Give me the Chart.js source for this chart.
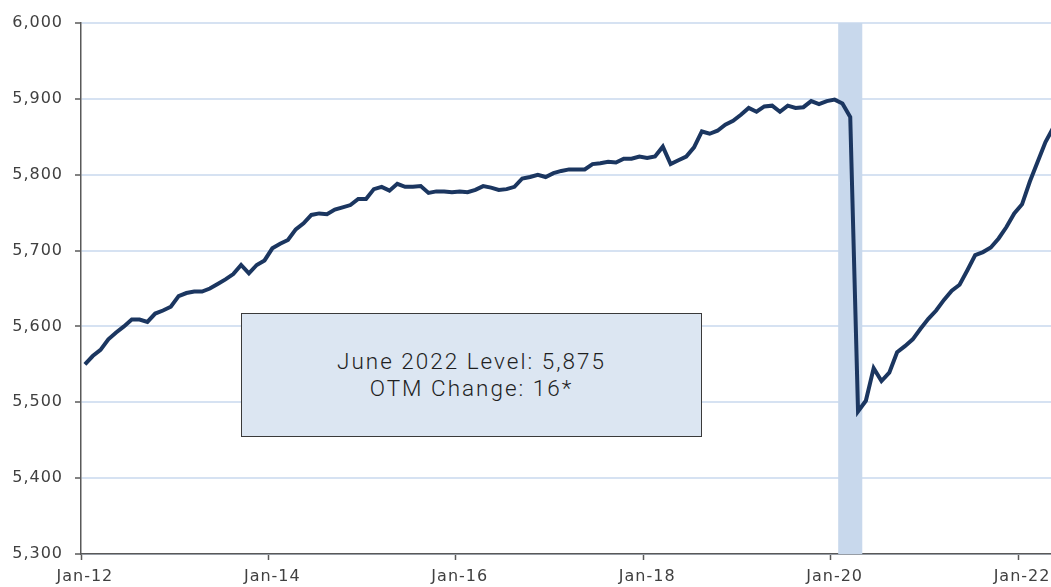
<!DOCTYPE html>
<html>
<head>
<meta charset="utf-8">
<script src="https://cdn.jsdelivr.net/npm/chart.js@4/dist/chart.umd.min.js"></script>
<style>
  html, body { margin: 0; padding: 0; background: #fff; overflow: hidden; }
  #wrap { position: relative; width: 1065px; height: 587px; }
  #note {
    position: absolute; left: 241px; top: 313px; width: 461px; height: 124px;
    box-sizing: border-box; background: #dce6f2; border: 1px solid #3a3a3a;
    display: flex; align-items: center; justify-content: center; text-align: center;
    font-family: Roboto, sans-serif; font-weight: 300; font-size: 22.5px;
    letter-spacing: 2px; line-height: 27px; color: #1f1f1f;
  }
</style>
</head>
<body>
<div id="wrap">
  <canvas id="chart-employment"></canvas>
  <div id="note">June 2022 Level: 5,875<br>OTM Change: 16*</div>
</div>
<script>
// monthly series, Jan-12 .. Jun-22
const startYear = 2012;
const monthNames = ["Jan", "Feb", "Mar", "Apr", "May", "Jun", "Jul", "Aug", "Sep", "Oct", "Nov", "Dec"];

const values2012 = [5550, 5561, 5569, 5583, 5592, 5600, 5609, 5609, 5606, 5617, 5621, 5626];
const values2013 = [5640, 5644, 5646, 5646, 5650, 5656, 5662, 5669, 5681, 5670, 5681, 5687];
const values2014 = [5703, 5709, 5714, 5728, 5736, 5747, 5749, 5748, 5754, 5757, 5760, 5768];
const values2015 = [5768, 5781, 5784, 5779, 5788, 5784, 5784, 5785, 5776, 5778, 5778, 5777];
const values2016 = [5778, 5777, 5780, 5785, 5783, 5780, 5781, 5784, 5795, 5797, 5800, 5797];
const values2017 = [5802, 5805, 5807, 5807, 5807, 5814, 5815, 5817, 5816, 5821, 5821, 5824];
const values2018 = [5822, 5824, 5837, 5814, 5819, 5824, 5836, 5857, 5854, 5858, 5866, 5871];
const values2019 = [5879, 5888, 5883, 5890, 5891, 5883, 5891, 5888, 5889, 5897, 5893, 5897];
const values2020 = [5899, 5894, 5876, 5488, 5502, 5545, 5528, 5539, 5566, 5574, 5583, 5597];
const values2021 = [5610, 5621, 5635, 5647, 5655, 5674, 5694, 5698, 5704, 5716, 5731, 5749];
const values2022 = [5761, 5791, 5817, 5843, 5862, 5875];

const recessionMonths = ["Feb-20", "Mar-20", "Apr-20"];
const yTicks = [5300, 5400, 5500, 5600, 5700, 5800, 5900, 6000];
const xTickLabels = ["Jan-12", "Jan-14", "Jan-16", "Jan-18", "Jan-20", "Jan-22"];

const levels = [].concat(values2012, values2013, values2014, values2015, values2016,
  values2017, values2018, values2019, values2020, values2021, values2022);

const months = [];
for (let i = 0; i < levels.length; i++) {
  const y = startYear + Math.floor(i / 12);
  months.push(monthNames[i % 12] + "-" + String(y).slice(2));
}
const band = months.map((m) => (recessionMonths.includes(m) ? yTicks[yTicks.length - 1] : null));

const axisGrey = "#595959";
const labelGrey = "#404040";

const spacing = {
  id: "spacing",
  beforeLayout(chart) { chart.ctx.letterSpacing = "1px"; },
  beforeDraw(chart) { chart.ctx.letterSpacing = "1px"; },
};

const ctx = document.getElementById("chart-employment").getContext("2d");
new Chart(ctx, {
  type: "line",
  data: {
    labels: months,
    datasets: [
      {
        label: "Employment",
        data: levels,
        borderColor: "#1b3660",
        borderWidth: 4,
        pointRadius: 0,
        tension: 0,
        fill: false,
        order: 1,
      },
      {
        type: "bar",
        label: "Recession",
        data: band,
        backgroundColor: "#c8d8ec",
        borderWidth: 0,
        barPercentage: 1,
        categoryPercentage: 1,
        order: 2,
      },
    ],
  },
  options: {
    responsive: true,
    maintainAspectRatio: false,
    animation: false,
    layout: { padding: { top: 23, right: 0, bottom: 0, left: 0 } },
    plugins: { legend: { display: false }, tooltip: { enabled: false } },
    scales: {
      x: {
        offset: true,
        grid: {
          offset: true,
          drawOnChartArea: false,
          tickLength: 6,
          tickWidth: 1.5,
          tickColor: (c) => (xTickLabels.includes(months[c.index]) ? axisGrey : "rgba(0,0,0,0)"),
        },
        border: { display: true, color: axisGrey, width: 1.5 },
        ticks: {
          autoSkip: false,
          maxRotation: 0,
          minRotation: 0,
          padding: 7,
          color: labelGrey,
          font: { family: "DejaVu Sans", size: 16 },
          callback: (v, i) => (xTickLabels.includes(months[i]) ? months[i] : ""),
        },
        afterFit: (s) => { s.height = 33; s.paddingLeft = 0; s.paddingRight = 0; },
      },
      y: {
        min: 5300,
        max: 6000,
        afterBuildTicks: (s) => { s.ticks = yTicks.map((v) => ({ value: v })); },
        grid: {
          color: "#d6e2f2",
          lineWidth: 2,
          tickLength: 6,
          tickWidth: 1.5,
          tickColor: axisGrey,
        },
        border: { display: true, color: axisGrey, width: 1.5 },
        ticks: {
          padding: 12,
          color: labelGrey,
          font: { family: "DejaVu Sans", size: 16 },
          callback: (v) => v.toLocaleString("en-US"),
        },
        afterFit: (s) => { s.width = 81; s.paddingTop = 0; s.paddingBottom = 0; },
      },
    },
  },
  plugins: [spacing],
});
</script>
</body>
</html>
